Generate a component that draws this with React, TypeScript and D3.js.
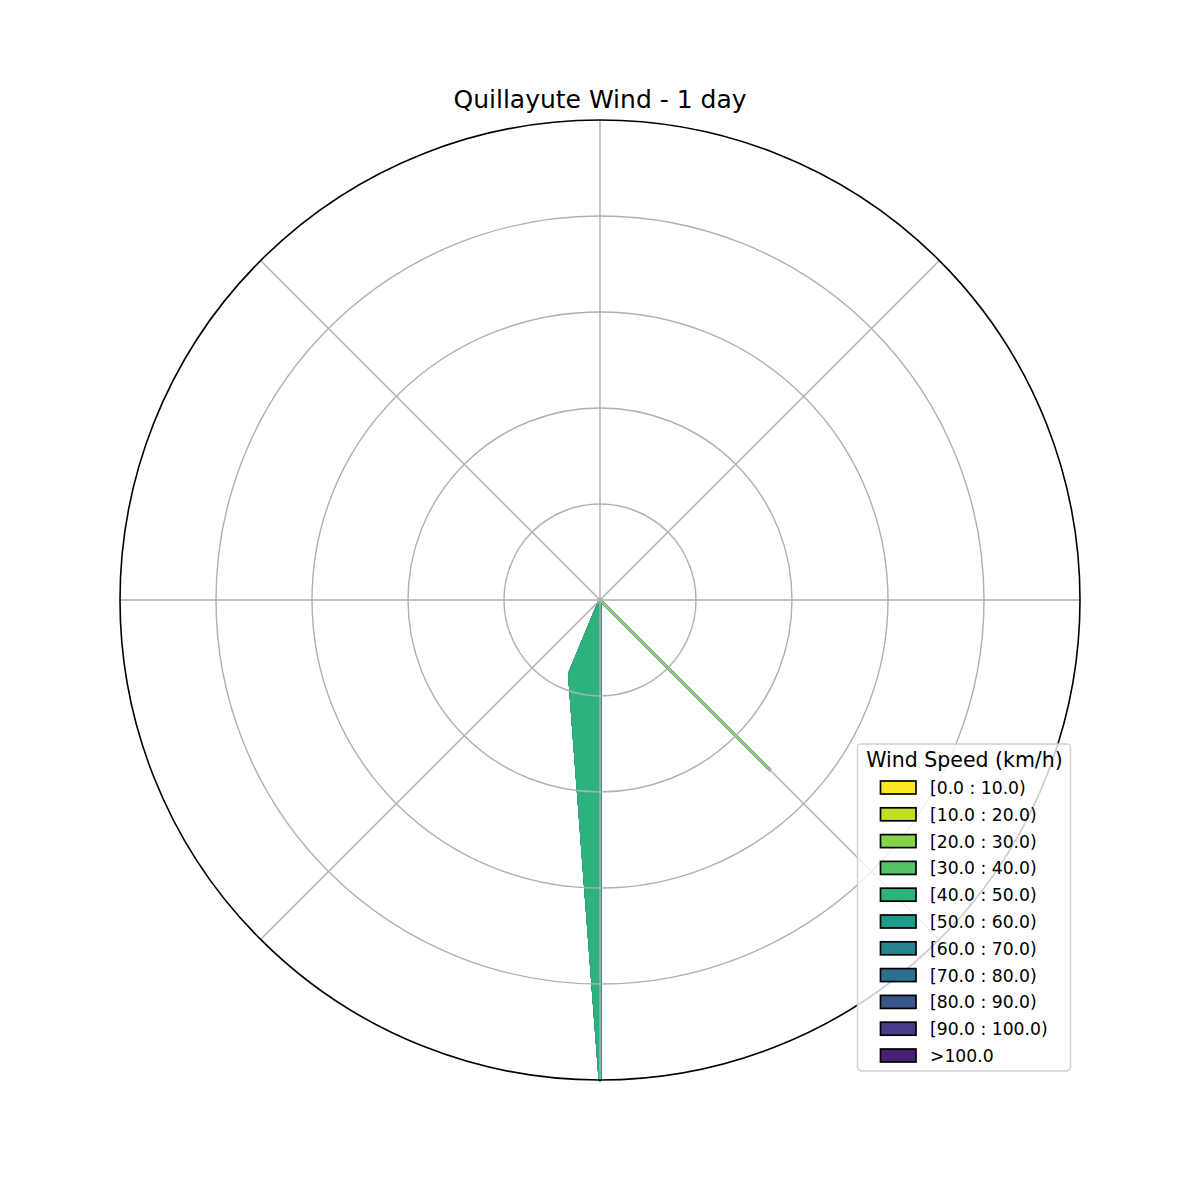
import React from "react";
import * as d3 from "d3";

// compass sectors (degrees, clockwise from north)
const sectors = [0, 22.5, 45, 67.5, 90, 112.5, 135, 157.5, 180, 202.5, 225, 247.5, 270, 292.5, 315, 337.5];

const binLabels = [
  "[0.0 : 10.0)", "[10.0 : 20.0)", "[20.0 : 30.0)", "[30.0 : 40.0)", "[40.0 : 50.0)",
  "[50.0 : 60.0)", "[60.0 : 70.0)", "[70.0 : 80.0)", "[80.0 : 90.0)", "[90.0 : 100.0)", ">100.0",
];
const binColors = [
  "#fde725", "#c2df23", "#86d549", "#52c569", "#2db27d",
  "#1e9c89", "#25858e", "#2d708e", "#38588c", "#433e85", "#482173",
];

// counts per sector for each speed bin
const bin0_10 = [0, 0, 0, 0, 0, 0, 0, 0, 0, 0, 0, 0, 0, 0, 0, 0];
const bin10_20 = [0, 0, 0, 0, 0, 0, 0, 0, 0, 0, 0, 0, 0, 0, 0, 0];
const bin20_30 = [0, 0, 0, 0, 0, 0, 3, 0, 0, 0, 0, 0, 0, 0, 0, 0];
const bin30_40 = [0, 0, 0, 0, 0, 0, 0, 0, 0, 0, 0, 0, 0, 0, 0, 0];
const bin40_50 = [0, 0, 0, 0, 0, 0, 0, 0, 6, 1, 0, 0, 0, 0, 0, 0];
const bin50_60 = [0, 0, 0, 0, 0, 0, 0, 0, 0, 0, 0, 0, 0, 0, 0, 0];
const bin60_70 = [0, 0, 0, 0, 0, 0, 0, 0, 0, 0, 0, 0, 0, 0, 0, 0];
const bin70_80 = [0, 0, 0, 0, 0, 0, 0, 0, 0, 0, 0, 0, 0, 0, 0, 0];
const bin80_90 = [0, 0, 0, 0, 0, 0, 0, 0, 0, 0, 0, 0, 0, 0, 0, 0];
const bin90_100 = [0, 0, 0, 0, 0, 0, 0, 0, 0, 0, 0, 0, 0, 0, 0, 0];
const bin100p = [0, 0, 0, 0, 0, 0, 0, 0, 0, 0, 0, 0, 0, 0, 0, 0];

const table = [bin0_10, bin10_20, bin20_30, bin30_40, bin40_50, bin50_60, bin60_70, bin70_80, bin80_90, bin90_100, bin100p];

const gridAngles = [0, 45, 90, 135, 180, 225, 270, 315];

export default function App() {
  const W = 1200, H = 1200;
  const cx = 600, cy = 600, R = 480;
  const font = "DejaVu Sans, sans-serif";

  // cumulative values per bin
  const cum: number[][] = [];
  table.forEach((row, i) => {
    cum.push(row.map((v, j) => v + (i > 0 ? cum[i - 1][j] : 0)));
  });
  const rmax = d3.max(cum[cum.length - 1]) || 1;
  const r = d3.scaleLinear().domain([0, rmax]).range([0, R]);
  const gridVals = d3.range(1, 5).map((k) => (k * rmax) / 5);

  const toRad = (deg: number) => (deg * Math.PI) / 180;
  const line = d3.lineRadial<number>()
    .angle((_, j) => toRad(sectors[j]))
    .radius((v) => r(v))
    .curve(d3.curveLinearClosed);

  const order = d3.range(table.length).reverse(); // lower bins on top

  const lgX = 857.5, lgY = 744, lgW = 213, lgH = 327;
  const rowY = (i: number) => 787.5 + i * 26.8;

  return (
    <div style={{ position: "absolute", left: 0, top: 0 }}>
      <svg width={W} height={H} style={{ display: "block", background: "#fff" }}>
        <text x={600} y={108} textAnchor="middle" fontFamily={font} fontSize={25} fill="#000">
          Quillayute Wind - 1 day
        </text>
        <g transform={`translate(${cx},${cy})`}>
          {order.map((i) => (
            <path key={i} d={line(cum[i]) || ""} fill={binColors[i]} stroke={binColors[i]}
              strokeWidth={2.8} strokeLinejoin="round" />
          ))}
          {gridVals.map((v) => (
            <circle key={v} r={r(v)} fill="none" stroke="#b0b0b0" strokeWidth={1.4} />
          ))}
          {gridAngles.map((a) => (
            <line key={a} x1={0} y1={0} x2={R * Math.sin(toRad(a))} y2={-R * Math.cos(toRad(a))}
              stroke="#b0b0b0" strokeWidth={1.4} />
          ))}
          <circle r={R} fill="none" stroke="#000" strokeWidth={1.6} />
        </g>
        <g>
          <rect x={lgX} y={lgY} width={lgW} height={lgH} rx={4} fill="#fff" fillOpacity={0.8}
            stroke="#d0d0d0" strokeWidth={1.4} />
          <text x={lgX + lgW / 2 + 0.5} y={767} textAnchor="middle" fontFamily={font} fontSize={20.5} fill="#000">
            Wind Speed (km/h)
          </text>
          {binLabels.map((lab, i) => (
            <g key={lab}>
              <rect x={880.5} y={rowY(i) - 6.5} width={35.5} height={13} fill={binColors[i]} stroke="#000" strokeWidth={1.7} />
              <text x={930} y={rowY(i) + 6.5} fontFamily={font} fontSize={17.2} fill="#000">{lab}</text>
            </g>
          ))}
        </g>
      </svg>
    </div>
  );
}
